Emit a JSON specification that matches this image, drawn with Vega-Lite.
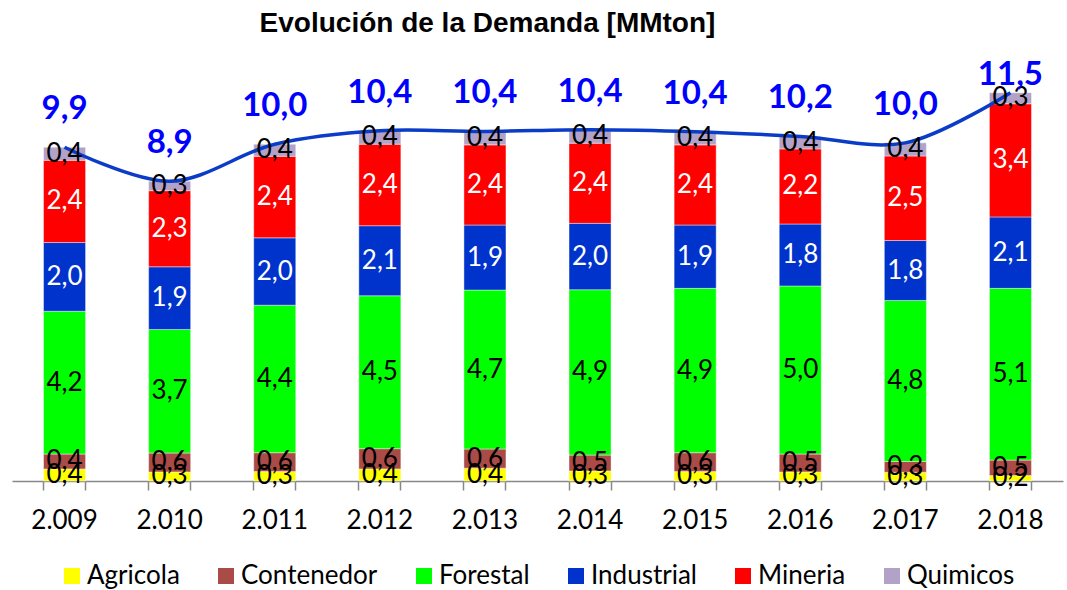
{
  "$schema": "https://vega.github.io/schema/vega-lite/v6.json",
  "autosize": {"type": "none"},
  "padding": {"left": 12, "top": 60, "right": 4, "bottom": 109},
  "width": 1051,
  "height": 421,
  "title": {"text": "Evolución de la Demanda [MMton]", "font": "Liberation Sans", "fontSize": 28, "fontWeight": "bold", "color": "#000000", "anchor": "middle", "frame": "group", "dx": -50, "offset": 21},
  "data": {"values": [
    {"year": "2.009", "cat": "Agricola", "value": 0.36},
    {"year": "2.009", "cat": "Contenedor", "value": 0.44},
    {"year": "2.009", "cat": "Forestal", "value": 4.24},
    {"year": "2.009", "cat": "Industrial", "value": 2.04},
    {"year": "2.009", "cat": "Mineria", "value": 2.44},
    {"year": "2.009", "cat": "Quimicos", "value": 0.39},
    {"year": "2.010", "cat": "Agricola", "value": 0.27},
    {"year": "2.010", "cat": "Contenedor", "value": 0.56},
    {"year": "2.010", "cat": "Forestal", "value": 3.67},
    {"year": "2.010", "cat": "Industrial", "value": 1.86},
    {"year": "2.010", "cat": "Mineria", "value": 2.26},
    {"year": "2.010", "cat": "Quimicos", "value": 0.28},
    {"year": "2.011", "cat": "Agricola", "value": 0.28},
    {"year": "2.011", "cat": "Contenedor", "value": 0.56},
    {"year": "2.011", "cat": "Forestal", "value": 4.38},
    {"year": "2.011", "cat": "Industrial", "value": 2.00},
    {"year": "2.011", "cat": "Mineria", "value": 2.42},
    {"year": "2.011", "cat": "Quimicos", "value": 0.36},
    {"year": "2.012", "cat": "Agricola", "value": 0.36},
    {"year": "2.012", "cat": "Contenedor", "value": 0.60},
    {"year": "2.012", "cat": "Forestal", "value": 4.54},
    {"year": "2.012", "cat": "Industrial", "value": 2.08},
    {"year": "2.012", "cat": "Mineria", "value": 2.42},
    {"year": "2.012", "cat": "Quimicos", "value": 0.40},
    {"year": "2.013", "cat": "Agricola", "value": 0.38},
    {"year": "2.013", "cat": "Contenedor", "value": 0.57},
    {"year": "2.013", "cat": "Forestal", "value": 4.72},
    {"year": "2.013", "cat": "Industrial", "value": 1.93},
    {"year": "2.013", "cat": "Mineria", "value": 2.38},
    {"year": "2.013", "cat": "Quimicos", "value": 0.40},
    {"year": "2.014", "cat": "Agricola", "value": 0.30},
    {"year": "2.014", "cat": "Contenedor", "value": 0.47},
    {"year": "2.014", "cat": "Forestal", "value": 4.91},
    {"year": "2.014", "cat": "Industrial", "value": 1.97},
    {"year": "2.014", "cat": "Mineria", "value": 2.38},
    {"year": "2.014", "cat": "Quimicos", "value": 0.40},
    {"year": "2.015", "cat": "Agricola", "value": 0.28},
    {"year": "2.015", "cat": "Contenedor", "value": 0.56},
    {"year": "2.015", "cat": "Forestal", "value": 4.88},
    {"year": "2.015", "cat": "Industrial", "value": 1.88},
    {"year": "2.015", "cat": "Mineria", "value": 2.38},
    {"year": "2.015", "cat": "Quimicos", "value": 0.39},
    {"year": "2.016", "cat": "Agricola", "value": 0.27},
    {"year": "2.016", "cat": "Contenedor", "value": 0.53},
    {"year": "2.016", "cat": "Forestal", "value": 4.99},
    {"year": "2.016", "cat": "Industrial", "value": 1.84},
    {"year": "2.016", "cat": "Mineria", "value": 2.23},
    {"year": "2.016", "cat": "Quimicos", "value": 0.37},
    {"year": "2.017", "cat": "Agricola", "value": 0.26},
    {"year": "2.017", "cat": "Contenedor", "value": 0.32},
    {"year": "2.017", "cat": "Forestal", "value": 4.78},
    {"year": "2.017", "cat": "Industrial", "value": 1.78},
    {"year": "2.017", "cat": "Mineria", "value": 2.51},
    {"year": "2.017", "cat": "Quimicos", "value": 0.39},
    {"year": "2.018", "cat": "Agricola", "value": 0.16},
    {"year": "2.018", "cat": "Contenedor", "value": 0.46},
    {"year": "2.018", "cat": "Forestal", "value": 5.10},
    {"year": "2.018", "cat": "Industrial", "value": 2.12},
    {"year": "2.018", "cat": "Mineria", "value": 3.36},
    {"year": "2.018", "cat": "Quimicos", "value": 0.33}
  ]},
  "resolve": {"axis": {"x": "independent"}},
  "layer": [
    {
      "mark": {"type": "bar", "stroke": "#ffffff", "strokeWidth": 0.6, "strokeOpacity": 0.7},
      "encoding": {
        "x": {"field": "year", "type": "nominal", "sort": "ascending",
              "scale": {"paddingInner": 0.6, "paddingOuter": 0.3},
              "axis": {"orient": "bottom", "title": null, "bandPosition": 0, "labelAngle": 0, "labelFont": "Lato", "labelFontSize": 26, "labelColor": "#000000", "labelPadding": 17, "tickSize": 9, "tickColor": "#888888", "tickWidth": 1.5, "domainColor": "#888888", "domainWidth": 1.5, "grid": false, "labelBound": false, "labelOverlap": false}},
        "y": {"field": "value", "type": "quantitative", "stack": "zero", "scale": {"domain": [0, 12.5], "nice": false}, "axis": null},
        "order": {"field": "cat", "type": "nominal", "sort": "ascending"},
        "color": {"field": "cat", "type": "nominal",
                  "scale": {"domain": ["Agricola", "Contenedor", "Forestal", "Industrial", "Mineria", "Quimicos"],
                            "range": ["#FFFF00", "#AA4B47", "#00FF00", "#0033CC", "#FF0000", "#B3A2C7"]},
                  "legend": {"title": null, "orient": "none", "legendX": 47, "legendY": 503, "direction": "horizontal", "columns": 6,
                             "symbolType": "square", "symbolSize": 256, "symbolStrokeWidth": 0,
                             "labelFont": "Lato", "labelFontSize": 26, "labelColor": "#000000", "labelOffset": 2, "columnPadding": 33, "labelLimit": 300}}
      }
    },
    {
      "transform": [{"aggregate": [{"op": "sum", "field": "value", "as": "total"}], "groupby": ["year"]}],
      "mark": {"type": "line", "interpolate": "catmull-rom", "color": "#0A3CC8", "strokeWidth": 3.5},
      "encoding": {
        "x": {"field": "year", "type": "nominal", "sort": "ascending",
              "axis": {"orient": "bottom", "title": null, "bandPosition": 1, "labels": false, "domain": false, "tickSize": 9, "tickColor": "#888888", "tickWidth": 1.5, "grid": false}},
        "y": {"field": "total", "type": "quantitative", "axis": null}
      }
    },
    {
      "transform": [
        {"stack": "value", "groupby": ["year"], "sort": [{"field": "cat", "order": "ascending"}], "as": ["y0", "y1"]},
        {"calculate": "(datum.y0 + datum.y1) / 2", "as": "ymid"}
      ],
      "mark": {"type": "text", "font": "Lato", "fontSize": 26, "baseline": "middle", "align": "center"},
      "encoding": {
        "x": {"field": "year", "type": "nominal", "sort": "ascending", "axis": null},
        "y": {"field": "ymid", "type": "quantitative", "axis": null},
        "text": {"field": "value", "type": "quantitative", "format": ".1f"},
        "color": {"condition": {"test": "datum.cat === 'Industrial' || datum.cat === 'Mineria'", "value": "#ffffff"}, "value": "#000000"}
      }
    },
    {
      "transform": [
        {"aggregate": [{"op": "sum", "field": "value", "as": "total"}], "groupby": ["year"]},
        {"filter": "datum.year !== '2.018'"}
      ],
      "mark": {"type": "text", "font": "Lato", "fontSize": 33, "fontWeight": "bold", "color": "#0000FF", "baseline": "alphabetic", "align": "center", "dy": -28},
      "encoding": {
        "x": {"field": "year", "type": "nominal", "sort": "ascending", "axis": null},
        "y": {"field": "total", "type": "quantitative", "axis": null},
        "text": {"field": "total", "type": "quantitative", "format": ".1f"}
      }
    },
    {
      "transform": [
        {"aggregate": [{"op": "sum", "field": "value", "as": "total"}], "groupby": ["year"]},
        {"filter": "datum.year === '2.018'"}
      ],
      "mark": {"type": "text", "font": "Lato", "fontSize": 33, "fontWeight": "bold", "color": "#0000FF", "baseline": "alphabetic", "align": "center", "dy": -8},
      "encoding": {
        "x": {"field": "year", "type": "nominal", "sort": "ascending", "axis": null},
        "y": {"field": "total", "type": "quantitative", "axis": null},
        "text": {"field": "total", "type": "quantitative", "format": ".1f"}
      }
    }
  ],
  "config": {
    "font": "Lato",
    "view": {"stroke": null},
    "locale": {"number": {"decimal": ",", "thousands": ".", "grouping": [3], "currency": ["", " €"]}}
  }
}
